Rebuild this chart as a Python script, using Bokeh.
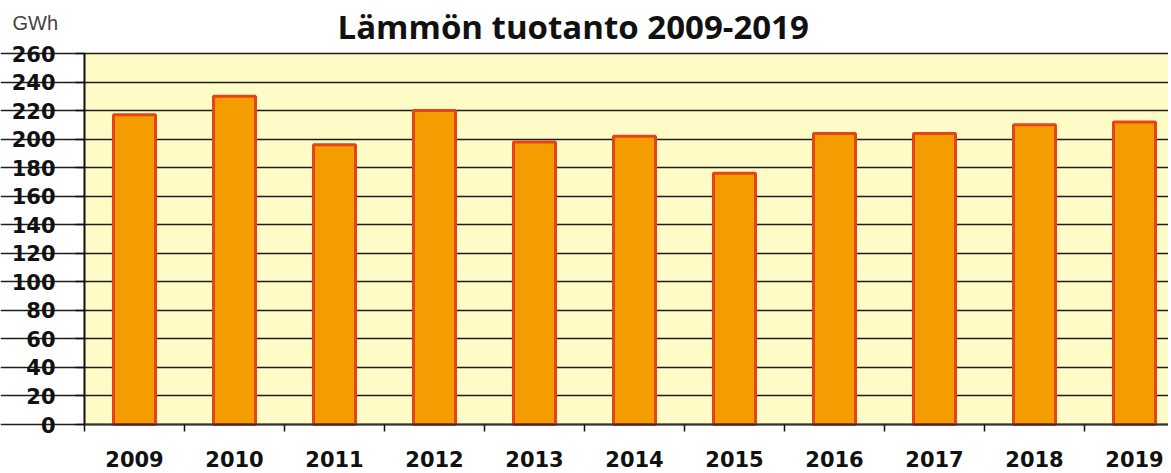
from bokeh.plotting import figure
from bokeh.models import FixedTicker, Range1d, CustomJSTickFormatter, BoxAnnotation
from bokeh.core.properties import value
from bokeh.embed import file_html
from bokeh.resources import INLINE

# ---- data ----
years = ["2009", "2010", "2011", "2012", "2013", "2014", "2015", "2016", "2017", "2018", "2019"]
heat_gwh = [217, 230, 196, 220, 198, 202, 176, 204, 204, 210, 212]
y_ticks = [0, 20, 40, 60, 80, 100, 120, 140, 160, 180, 200, 220, 240, 260]
title_text = "Lämmön tuotanto 2009-2019"
unit_text = "GWh"

centers = [i + 0.5 for i in range(len(years))]
bounds = list(range(len(years)))
y_max = y_ticks[-1]

# layout (pixels) -> data ranges; the whole canvas is the frame
W, H = 1168, 470
axis_left_px, axis_top_px, axis_bottom_px = 84, 53, 424
px_per_cat = 100.0
px_per_unit = (axis_bottom_px - axis_top_px) / y_max
x0 = -axis_left_px / px_per_cat
x1 = (W - axis_left_px) / px_per_cat
y0 = -(H - axis_bottom_px) / px_per_unit
y1 = y_max + axis_top_px / px_per_unit


def px_to_y(py):
    return y_max + (axis_top_px - py) / px_per_unit


def px_to_x(px):
    return (px - axis_left_px) / px_per_cat


p = figure(width=W, height=H, output_backend="svg", toolbar_location=None,
           x_range=Range1d(x0, x1), y_range=Range1d(y0, y1),
           min_border_left=0, min_border_right=0, min_border_top=0, min_border_bottom=0)
p.background_fill_color = "white"
p.border_fill_color = "white"
p.outline_line_color = None

# plot-area background
p.add_layout(BoxAnnotation(left=0, bottom=0, top=y_max, fill_color="#FEFBC7",
                           fill_alpha=1.0, line_color=None, level="image"))

# grid
p.xgrid.visible = False
p.ygrid.ticker = FixedTicker(ticks=y_ticks)
p.ygrid.bounds = (0, x1)
p.ygrid.grid_line_color = "#1e1e1e"
p.ygrid.grid_line_width = 1.7

# bars
p.vbar(x=centers, top=heat_gwh, width=0.42, fill_color="#F59C00",
       line_color="#E5441A", line_width=3)

# x axis
xa = p.xaxis[0]
xa.fixed_location = 0
xa.bounds = (0, x1)
xa.ticker = FixedTicker(ticks=centers, minor_ticks=bounds)
xa.formatter = CustomJSTickFormatter(args=dict(labels=years),
                                     code="return labels[Math.floor(tick)];")
xa.major_tick_line_color = None
xa.major_tick_out = 0
xa.major_tick_in = 0
xa.minor_tick_line_color = "#111111"
xa.minor_tick_line_width = 1.5
xa.minor_tick_out = 7
xa.minor_tick_in = 0
xa.axis_line_color = "#333333"
xa.axis_line_width = 2
xa.major_label_text_font = "DejaVu Sans"
xa.major_label_text_font_style = "bold"
xa.major_label_text_font_size = "21px"
xa.major_label_text_color = "#111111"
xa.major_label_standoff = 19

# y axis
ya = p.yaxis[0]
ya.fixed_location = 0
ya.bounds = (0, y_max)
ya.ticker = FixedTicker(ticks=y_ticks, minor_ticks=[])
ya.major_tick_out = 9
ya.major_tick_in = 0
ya.major_tick_line_color = "#111111"
ya.major_tick_line_width = 1.5
ya.axis_line_color = "#111111"
ya.axis_line_width = 2
ya.major_label_text_font = "DejaVu Sans"
ya.major_label_text_font_style = "bold"
ya.major_label_text_font_size = "21px"
ya.major_label_text_color = "#111111"
ya.major_label_standoff = 20

# title and unit label
p.text(x=[px_to_x(337)], y=[px_to_y(26)],
       text=[title_text], text_font=value("Open Sans"), text_font_style="bold",
       text_font_size="33px", text_color="#111111", text_baseline="alphabetic",
       text_align="left")
p.text(x=[px_to_x(12)], y=[px_to_y(22)],
       text=[unit_text], text_font=value("Liberation Sans"), text_font_size="20px",
       text_color="#444444", text_baseline="alphabetic", text_align="left")

open("out.html", "w").write(file_html(p, INLINE))
